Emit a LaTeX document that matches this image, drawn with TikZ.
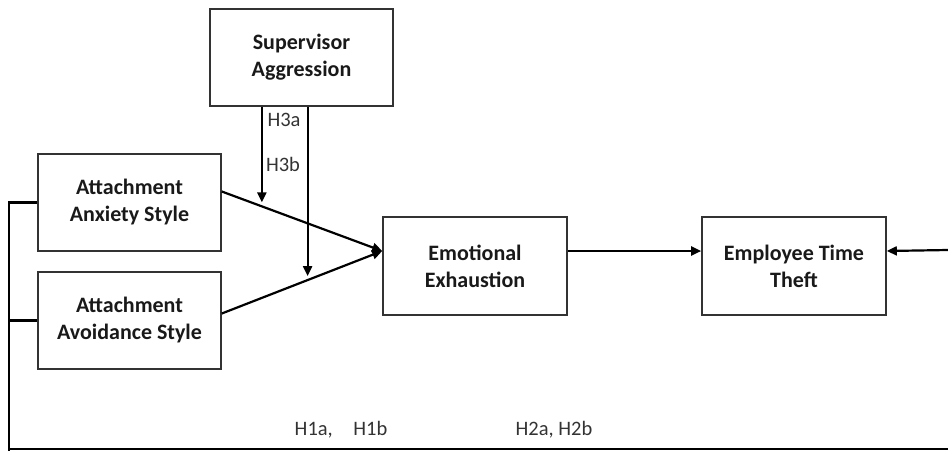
\documentclass[tikz,border=0pt]{standalone}
\usepackage{fontspec}
\setmainfont{Carlito}
\usetikzlibrary{arrows.meta,calc}
\begin{document}
\begin{tikzpicture}[x=1pt,y=-1pt,
  box/.style={draw=black!80,line width=1.6pt,minimum width=183pt,minimum height=97pt,
    align=center,font=\fontsize{22}{27}\selectfont\bfseries,text=black!90,inner sep=0pt},
  conn/.style={line width=2.2pt,-{Triangle[length=10pt,width=9pt]}},
  plain/.style={line width=2.2pt},
  hlab/.style={font=\fontsize{20.5}{24}\selectfont,text=black!80,inner sep=0pt}]
\useasboundingbox (0,0) rectangle (948,451);
\node[box] (sup) at (301.5,57.5) {Supervisor\\Aggression};
\node[box] (anx) at (129.5,202.5) {Attachment\\Anxiety Style};
\node[box] (avo) at (129.5,320.5) {Attachment\\Avoidance Style};
\node[box,minimum width=184pt,minimum height=98pt] (emo) at (475,266) {Emotional\\Exhaustion};
\node[box,minimum width=184pt,minimum height=98pt] (emp) at (794,266) {Employee Time\\Theft};
% main paths
\coordinate (tip) at ([yshift=15pt]emo.west);
\coordinate (a1) at ([yshift=11pt]anx.east);
\coordinate (v1) at ([yshift=7pt]avo.east);
\draw[conn] (a1) -- (tip);
\draw[conn] (v1) -- (tip);
\path (a1) -- (tip) coordinate[pos=0.25] (m1);
\path (v1) -- (tip) coordinate[pos=0.535] (m2);
\draw[conn] (sup.south -| m1) -- ([yshift=4pt]m1);
\draw[conn] (sup.south -| m2) -- ([yshift=4pt]m2);
\draw[conn] ([yshift=15pt]emo.east) -- ([yshift=15pt]emp.west);
\coordinate (rr) at (948,250);
\draw[conn] (rr) -- ([yshift=15pt]emp.east);
% left bracket and bottom line
\coordinate (bl) at (9,451);
\coordinate (bb) at (9,449);
\coordinate (br) at (948,449);
\draw[plain] (anx.west) -| (bl);
\draw[plain] (avo.west) -- (avo.west -| bl);
\draw[plain] (bb) -- (br);
% labels
\node[hlab] (h3a) at (284,120) {H3a};
\node[hlab] (h3b) at (283,164) {H3b};
\node[hlab] (h1) at (341,430) {H1a,\quad H1b};
\node[hlab] (h2) at (554,430) {H2a, H2b};
\end{tikzpicture}
\end{document}
